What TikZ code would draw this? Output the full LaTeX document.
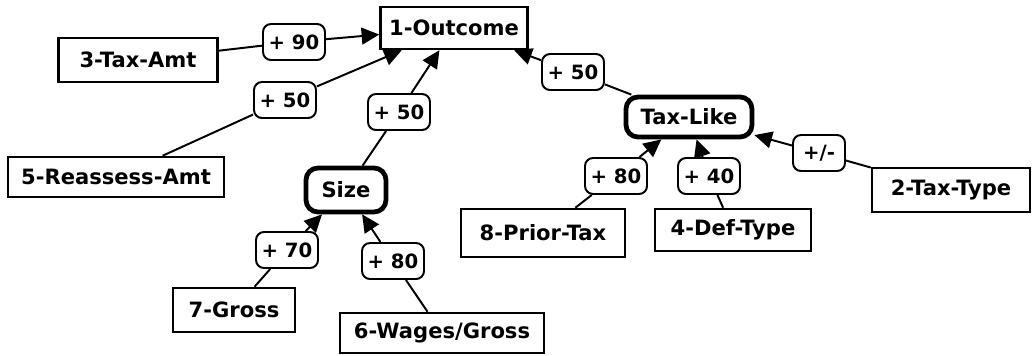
\documentclass[tikz,border=0pt]{standalone}
\usepackage{fontspec}
\setmainfont{DejaVu Sans}
\usetikzlibrary{arrows.meta}

\begin{document}
\begin{tikzpicture}[x=0.25mm, y=-0.25mm,
    var/.style={draw, line width=1.8pt, inner sep=0pt, font=\bfseries\fontsize{15}{17}\selectfont},
    mid/.style={draw, line width=3.4pt, rounded corners=3mm, inner sep=0pt, font=\bfseries\fontsize{15}{17}\selectfont},
    wt/.style={draw, line width=1.4pt, rounded corners=2mm, inner sep=0pt, minimum width=15.5mm, minimum height=9mm, font=\bfseries\fontsize{14}{16}\selectfont},
    wire/.style={line width=1.4pt},
    feed/.style={wire, -{Triangle[length=4.4mm, width=4.2mm]}}]
                    \useasboundingbox (0, 0) rectangle (1034, 355);

                    % variables
                    \node[var, minimum width=36.75mm, minimum height=10.5mm] (outcome) at (454, 28) {1-Outcome};
                    \node[var, minimum width=39.75mm, minimum height=11mm] (taxamt) at (138, 60) {3-Tax-Amt};
                    \node[var, minimum width=54mm, minimum height=10mm] (reassess) at (116, 177) {5-Reassess-Amt};
                    \node[var, minimum width=39.5mm, minimum height=11mm] (taxtype) at (951, 190) {2-Tax-Type};
                    \node[var, minimum width=39mm, minimum height=10.5mm] (deftype) at (733, 230) {4-Def-Type};
                    \node[var, minimum width=41mm, minimum height=12mm] (priortax) at (543, 233) {8-Prior-Tax};
                    \node[var, minimum width=30.5mm, minimum height=11mm] (gross) at (234, 310) {7-Gross};
                    \node[var, minimum width=51mm, minimum height=10mm] (wages) at (442, 333) {6-Wages/Gross};

                    % intermediate nodes
                    \node[mid, minimum width=20mm, minimum height=11mm] (size) at (346, 190) {Size};
                    \node[mid, minimum width=31.5mm, minimum height=10mm] (taxlike) at (689, 117) {Tax-Like};

                    % weights
                    \node[wt] (w1) at (294, 42) {+ 90};
                    \node[wt] (w2) at (285, 100) {+ 50};
                    \node[wt] (w3) at (399, 112) {+ 50};
                    \node[wt] (w4) at (573, 72) {+ 50};
                    \node[wt, minimum width=13mm] (w5) at (819, 153) {+/-};
                    \node[wt] (w6) at (616, 176) {+ 80};
                    \node[wt] (w7) at (709, 176) {+ 40};
                    \node[wt] (w8) at (287, 250) {+ 70};
                    \node[wt] (w9) at (393, 261) {+ 80};

                    \foreach \src/\w/\dst in {taxamt/w1/outcome, reassess/w2/outcome, size/w3/outcome,
                        taxlike/w4/outcome, taxtype/w5/taxlike, priortax/w6/taxlike, deftype/w7/taxlike,
                        gross/w8/size, wages/w9/size} {
                        \draw[wire] (\src) -- (\w);
                        \draw[feed] (\w) -- (\dst);
                    }
                \end{tikzpicture}
\end{document}
